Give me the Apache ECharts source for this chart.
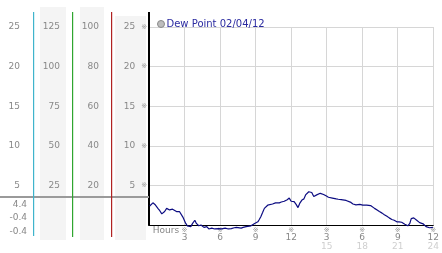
<!DOCTYPE html>
<html><head><meta charset="utf-8">
<script src="https://cdn.jsdelivr.net/npm/echarts@6/dist/echarts.min.js"></script>
<style>html,body{margin:0;padding:0;background:#fff}#c{width:442px;height:253px}</style>
</head><body><div id="c"></div>
<script>
var seriesName = 'Dew Point 02/04/12';
var hours = [0.06,0.17,0.33,0.5,0.75,0.91,1.08,1.16,1.32,1.49,1.57,1.74,1.99,2.15,2.32,2.4,2.57,2.73,2.86,2.98,3.1,3.23,3.39,3.53,3.68,3.87,4.0,4.2,4.39,4.64,4.88,5.05,5.3,5.55,5.88,6.13,6.43,6.7,6.95,7.2,7.37,7.53,7.78,7.95,8.03,8.2,8.36,8.61,8.77,8.92,9.06,9.19,9.31,9.44,9.6,9.74,9.89,10.02,10.18,10.43,10.57,10.68,10.84,11.0,11.17,11.3,11.42,11.55,11.67,11.75,11.84,12.0,12.25,12.42,12.58,12.75,12.91,13.08,13.22,13.33,13.49,13.62,13.74,13.91,14.07,14.16,14.32,14.46,14.61,14.74,14.9,14.98,15.15,15.31,15.48,15.56,15.81,15.98,16.23,16.39,16.64,16.8,17.05,17.22,17.47,17.63,17.8,17.88,18.05,18.21,18.38,18.54,18.71,18.85,19.04,19.26,19.45,19.68,19.87,20.09,20.28,20.5,20.7,20.92,21.11,21.33,21.44,21.6,21.73,21.85,22.02,22.14,22.24,22.35,22.43,22.6,22.71,22.85,22.99,23.14,23.26,23.39,23.51,23.68,23.82,23.97];
var dewPoint = [2.4,2.5,2.8,2.6,2.1,1.8,1.4,1.3,1.7,2.1,2.0,1.9,2.0,1.9,1.7,1.8,1.7,1.6,1.0,0.6,0.2,-0.1,0.0,-0.2,0.2,0.6,0.2,-0.1,0.0,-0.3,-0.2,-0.5,-0.4,-0.5,-0.45,-0.5,-0.4,-0.5,-0.45,-0.35,-0.3,-0.2,-0.4,-0.3,-0.1,-0.2,-0.3,-0.1,0.0,0.2,0.3,0.4,0.7,1.05,1.6,2.1,2.3,2.5,2.5,2.65,2.8,2.8,3.0,2.8,2.9,2.8,3.0,3.2,3.2,3.3,3.4,3.0,2.95,2.6,2.2,2.8,3.15,3.3,3.8,3.8,4.2,4.4,4.1,3.6,3.7,3.8,3.9,4.0,3.8,3.85,3.7,3.65,3.5,3.6,3.4,3.35,3.3,3.25,3.2,3.15,3.1,3.05,2.85,2.65,2.55,2.5,2.6,2.45,2.5,2.3,2.5,2.65,2.45,2.3,2.1,1.9,1.7,1.5,1.3,1.1,0.9,0.7,0.6,0.4,0.4,0.35,0.2,0.1,-0.1,-0.1,0.2,0.8,1.05,0.9,0.85,0.6,0.4,0.3,0.2,0.15,0.0,-0.2,-0.3,-0.35,-0.4,-0.3];
var hourLabels = ['Hours','3','6','9','12','3','6','9','12'];
var dayHourLabels = ['','','','','','15','18','21','24'];
var summaryLabels = ['4.4','-0.4','-0.4'];
var axisA = [5,10,15,20,25];
var axisB = [25,50,75,100,125];
var axisC = [20,40,60,80,100];

var FONT = 'DejaVu Sans';
var MARK = '\u203B';
var chart = echarts.init(document.getElementById('c'), null, {renderer:'canvas'});

function sideAxis(max, interval, offset, margin) {
  return {
    type:'value', position:'left', min:0, max:max, interval:interval, offset:offset,
    axisLine:{show:false}, axisTick:{show:false}, splitLine:{show:false},
    axisLabel:{margin:margin, color:'#888', fontSize:9, fontFamily:FONT, hideOverlap:false,
      formatter:function(v){ return v===0 ? '' : String(v); }}
  };
}

var graphics = [
  {type:'rect', z:-10, shape:{x:40,y:7,width:26,height:233}, style:{fill:'#f4f4f4'}},
  {type:'rect', z:-10, shape:{x:80,y:7,width:24,height:233}, style:{fill:'#f4f4f4'}},
  {type:'rect', z:-10, shape:{x:115,y:16,width:31,height:224}, style:{fill:'#f4f4f4'}},
  {type:'line', z:10, shape:{x1:0,y1:197,x2:149,y2:197}, style:{stroke:'#9a9a9a', lineWidth:2}},
  {type:'rect', z:20, shape:{x:33,y:12,width:1.2,height:224}, style:{fill:'#3fb4cc'}},
  {type:'rect', z:20, shape:{x:72,y:12,width:1.2,height:225}, style:{fill:'#2fa52f'}},
  {type:'rect', z:20, shape:{x:111,y:12,width:1.2,height:225}, style:{fill:'#b02222'}},
  {type:'line', z:20, shape:{x1:149,y1:12,x2:149,y2:28}, style:{stroke:'#000', lineWidth:2}}
];
var sy = [205, 218, 232];
summaryLabels.forEach(function(t, i){
  graphics.push({type:'text', x:27, y:sy[i], style:{text:t, fill:'#888', font:'9px ' + FONT,
    align:'right', verticalAlign:'middle', textAlign:'right', textVerticalAlign:'middle'}});
});

var option = {
  animation:false,
  backgroundColor:'#fff',
  grid:{left:149, right:3, top:27, bottom:28},
  legend:{
    data:[seriesName], left:152, top:14, icon:'circle', itemWidth:7, itemHeight:7,
    itemStyle:{color:'#bdbdbd', borderColor:'#8a8a8a', borderWidth:1},
    textStyle:{color:'#2a2aa0', fontSize:10, fontFamily:FONT, padding:[0,0,0,-3]}
  },
  xAxis:{
    type:'value', min:0, max:24, interval:3,
    axisLine:{lineStyle:{color:'#000', width:1}},
    axisTick:{show:false},
    splitLine:{show:true, lineStyle:{color:'#d6d6d6', width:1}},
    axisLabel:{
      margin:2, showMinLabel:true, showMaxLabel:true, hideOverlap:false,
      formatter:function(v){
        var i = Math.round(v/3);
        if (i === 0) return '{h|' + hourLabels[0] + '}';
        var s = '{m|' + MARK + '}\n{n|' + hourLabels[i] + '}';
        if (dayHourLabels[i]) s += '\n{s|' + dayHourLabels[i] + '}';
        return s;
      },
      rich:{
        h:{color:'#888', fontSize:9, fontFamily:FONT, lineHeight:8, padding:[0,0,0,34]},
        m:{color:'#999', fontSize:7, fontFamily:FONT, lineHeight:6},
        n:{color:'#888', fontSize:9, fontFamily:FONT, lineHeight:10},
        s:{color:'#cfcfcf', fontSize:9, fontFamily:FONT, lineHeight:8}
      }
    }
  },
  yAxis:[
    {
      type:'value', position:'left', min:0, max:25, interval:5,
      axisLine:{show:true, lineStyle:{color:'#000', width:2}},
      axisTick:{show:false},
      splitLine:{show:true, lineStyle:{color:'#d6d6d6', width:1}},
      axisLabel:{margin:2, hideOverlap:false,
        formatter:function(v){ return v===0 ? '' : '{v|' + v + '}{m|' + MARK + '}'; },
        rich:{
          v:{color:'#888', fontSize:9, fontFamily:FONT},
          m:{color:'#999', fontSize:7, fontFamily:FONT, padding:[0,0,0,6]}
        }
      }
    },
    sideAxis(axisA[axisA.length-1], axisA[0], 116, 13),
    sideAxis(axisB[axisB.length-1], axisB[0], 77, 12),
    sideAxis(axisC[axisC.length-1], axisC[0], 38, 12)
  ],
  series:[{
    name:seriesName, type:'line', yAxisIndex:0, symbol:'none', clip:false,
    lineStyle:{color:'#0c0c82', width:1.2}, itemStyle:{color:'#bdbdbd'},
    data: hours.map(function(h, i){ return [h, dewPoint[i]]; })
  }],
  graphic: graphics
};
chart.setOption(option);
</script>
</body></html>
